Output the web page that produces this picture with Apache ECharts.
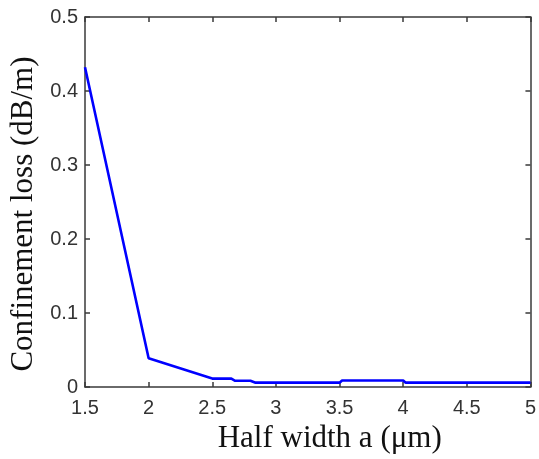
<!DOCTYPE html>
<html>
<head>
<meta charset="utf-8">
<script src="https://cdn.jsdelivr.net/npm/echarts@6/dist/echarts.min.js"></script>
<style>
html,body{margin:0;padding:0;background:#fff;}
#c{width:539px;height:459px;}
</style>
</head>
<body>
<div id="c"></div>
<script>
// Data
var halfWidth = [1.5, 2.0, 2.5, 2.65, 2.68, 2.8, 2.84, 3.5, 3.52, 4.0, 4.02, 4.5, 5.0];
var confinementLoss = [0.432, 0.039, 0.0115, 0.0115, 0.0085, 0.0085, 0.006, 0.006, 0.009, 0.009, 0.006, 0.006, 0.006];
var xTitle = 'Half width a (\u03bcm)';
var yTitle = 'Confinement loss (dB/m)';

var points = halfWidth.map(function (x, i) { return [x, confinementLoss[i]]; });

var chart = echarts.init(document.getElementById('c'), null, {renderer: 'canvas'});
var axisColor = '#3a3a3a';
var tickFont = {fontFamily: 'Liberation Sans, Arial, sans-serif', fontSize: 20, color: '#333'};
var titleFont = {fontFamily: 'Liberation Serif, Times New Roman, serif', fontSize: 31, color: '#111'};

chart.setOption({
  animation: false,
  backgroundColor: '#fff',
  grid: {left: 85, right: 5, top: 17, bottom: 67.5, containLabel: false},
  xAxis: [{
    type: 'value', min: 1.5, max: 5, interval: 0.5, position: 'bottom',
    axisLine: {show: true, onZero: false, lineStyle: {color: axisColor, width: 1.5}},
    axisTick: {show: true, inside: true, length: 5, lineStyle: {color: axisColor, width: 1.5}},
    axisLabel: Object.assign({margin: 11}, tickFont),
    splitLine: {show: false},
    name: xTitle, nameLocation: 'middle', nameGap: 35,
    nameTextStyle: Object.assign({padding: [0, 0, 0, 44]}, titleFont)
  }, {
    type: 'value', min: 1.5, max: 5, interval: 0.5, position: 'top',
    axisLine: {show: true, onZero: false, lineStyle: {color: axisColor, width: 1.5}},
    axisTick: {show: true, inside: true, length: 5, lineStyle: {color: axisColor, width: 1.5}},
    axisLabel: {show: false}, splitLine: {show: false}
  }],
  yAxis: [{
    type: 'value', min: 0, max: 0.5, interval: 0.1, position: 'left',
    axisLine: {show: true, onZero: false, lineStyle: {color: axisColor, width: 1.5}},
    axisTick: {show: true, inside: true, length: 5, lineStyle: {color: axisColor, width: 1.5}},
    axisLabel: Object.assign({margin: 7}, tickFont),
    splitLine: {show: false},
    name: yTitle, nameLocation: 'middle', nameGap: 42,
    nameTextStyle: Object.assign({padding: [0, 24, 0, 0]}, titleFont)
  }, {
    type: 'value', min: 0, max: 0.5, interval: 0.1, position: 'right',
    axisLine: {show: true, onZero: false, lineStyle: {color: axisColor, width: 1.5}},
    axisTick: {show: true, inside: true, length: 5, lineStyle: {color: axisColor, width: 1.5}},
    axisLabel: {show: false}, splitLine: {show: false}
  }],
  series: [{
    type: 'line', xAxisIndex: 0, yAxisIndex: 0,
    data: points, showSymbol: false, symbol: 'none',
    lineStyle: {color: '#0000ff', width: 2.6}
  }]
});
</script>
</body>
</html>
